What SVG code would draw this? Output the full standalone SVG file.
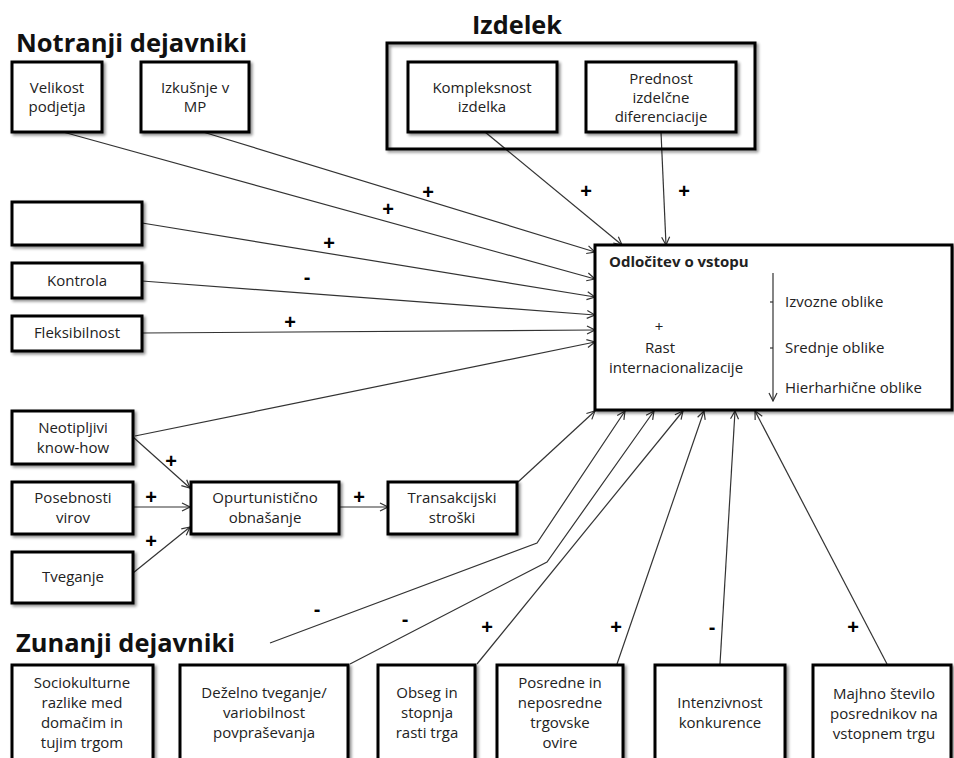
<svg xmlns="http://www.w3.org/2000/svg" width="954" height="758" viewBox="0 0 954 758">
<defs>
<filter id="sh" x="-10%" y="-10%" width="130%" height="140%">
<feGaussianBlur in="SourceAlpha" stdDeviation="1.5"/>
<feOffset dx="2" dy="2" result="b"/>
<feComponentTransfer><feFuncA type="linear" slope="0.45"/></feComponentTransfer>
<feMerge><feMergeNode/><feMergeNode in="SourceGraphic"/></feMerge>
</filter>
<marker id="ar" viewBox="0 0 10 10" refX="9" refY="5" markerWidth="10" markerHeight="10" markerUnits="userSpaceOnUse" orient="auto">
<path d="M1,1 L9,5 L1,9" fill="none" stroke="#333" stroke-width="1.2"/>
</marker>
</defs>
<style>
.box{fill:#fff;stroke:#000;stroke-width:3;filter:url(#sh)}
.t{font-family:"Open Sans","Liberation Sans",sans-serif;font-size:15px;fill:#222;text-anchor:middle}
.ti{font-family:"Open Sans","Liberation Sans",sans-serif;font-size:25px;font-weight:bold;fill:#111}
.s{font-family:"Liberation Sans",Arial,sans-serif;font-size:20px;font-weight:bold;fill:#000;text-anchor:middle}
.c{fill:none;stroke:#333;stroke-width:1.2}
.ca{fill:none;stroke:#333;stroke-width:1.2;marker-end:url(#ar)}
</style>
<rect width="954" height="758" fill="#fff"/>

<text class="ti" x="16" y="52" textLength="231" lengthAdjust="spacingAndGlyphs">Notranji dejavniki</text>
<text class="ti" x="472" y="34" textLength="90" lengthAdjust="spacingAndGlyphs">Izdelek</text>
<text class="ti" x="16" y="652" textLength="219" lengthAdjust="spacingAndGlyphs">Zunanji dejavniki</text>

<g id="connectors">
<line class="ca" x1="63" y1="132" x2="595" y2="279"/>
<line class="ca" x1="203" y1="132" x2="595" y2="252"/>
<line class="ca" x1="142" y1="223" x2="595" y2="297"/>
<line class="ca" x1="142" y1="281" x2="595" y2="315"/>
<line class="ca" x1="142" y1="333" x2="595" y2="330"/>
<line class="ca" x1="135" y1="436" x2="595" y2="342"/>
<line class="ca" x1="485" y1="132" x2="622" y2="245"/>
<line class="ca" x1="661" y1="132" x2="666" y2="245"/>
<line class="ca" x1="133" y1="437" x2="190" y2="488"/>
<line class="ca" x1="133" y1="507" x2="190" y2="507"/>
<line class="ca" x1="133" y1="573" x2="190" y2="527"/>
<line class="ca" x1="339" y1="507" x2="388" y2="507"/>
<line class="ca" x1="518" y1="482" x2="595" y2="411"/>
<polyline class="ca" points="270,643 537,543 625,411"/>
<polyline class="ca" points="350,664 547,562 654,411"/>
<line class="ca" x1="477" y1="664" x2="683" y2="411"/>
<line class="ca" x1="617" y1="664" x2="704" y2="411"/>
<line class="ca" x1="720" y1="664" x2="735" y2="411"/>
<line class="ca" x1="887" y1="664" x2="755" y2="411"/>
</g>

<g id="labels">
<text class="s" x="428" y="199">+</text>
<text class="s" x="388" y="216">+</text>
<text class="s" x="329" y="250">+</text>
<text class="s" x="307" y="284">-</text>
<text class="s" x="290" y="329">+</text>
<text class="s" x="586" y="198">+</text>
<text class="s" x="684" y="198">+</text>
<text class="s" x="171" y="468">+</text>
<text class="s" x="151" y="504">+</text>
<text class="s" x="151" y="548">+</text>
<text class="s" x="359" y="504">+</text>
<text class="s" x="317" y="616">-</text>
<text class="s" x="405" y="626">-</text>
<text class="s" x="487" y="634">+</text>
<text class="s" x="616" y="634">+</text>
<text class="s" x="712" y="634">-</text>
<text class="s" x="853" y="634">+</text>
</g>

<g id="n-velikost"><rect class="box" x="12" y="62" width="90" height="70"/>
<text class="t" x="57" y="93">Velikost</text><text class="t" x="57" y="112">podjetja</text></g>
<g id="n-izkusnje"><rect class="box" x="141" y="62" width="108" height="70"/>
<text class="t" x="195" y="93">Izkušnje v</text><text class="t" x="195" y="112">MP</text></g>

<g id="n-izdelek"><rect x="387" y="43" width="368" height="106" fill="none" stroke="#000" stroke-width="3" filter="url(#sh)"/></g>
<g id="n-kompleksnost"><rect class="box" x="408" y="62" width="149" height="70"/>
<text class="t" x="482" y="93">Kompleksnost</text><text class="t" x="482" y="112">izdelka</text></g>
<g id="n-prednost"><rect class="box" x="586" y="62" width="150" height="70"/>
<text class="t" x="661" y="84">Prednost</text><text class="t" x="661" y="103">izdelčne</text><text class="t" x="661" y="122">diferenciacije</text></g>

<g id="n-empty"><rect class="box" x="12" y="202" width="130" height="43"/></g>
<g id="n-kontrola"><rect class="box" x="12" y="263" width="130" height="35"/>
<text class="t" x="77" y="286">Kontrola</text></g>
<g id="n-fleksibilnost"><rect class="box" x="12" y="316" width="130" height="35"/>
<text class="t" x="77" y="338">Fleksibilnost</text></g>

<g id="n-neotipljivi"><rect class="box" x="12" y="411" width="121" height="53"/>
<text class="t" x="73" y="433">Neotipljivi</text><text class="t" x="73" y="453">know-how</text></g>
<g id="n-posebnosti"><rect class="box" x="12" y="482" width="121" height="52"/>
<text class="t" x="73" y="503">Posebnosti</text><text class="t" x="73" y="523">virov</text></g>
<g id="n-tveganje"><rect class="box" x="12" y="552" width="121" height="51"/>
<text class="t" x="73" y="582">Tveganje</text></g>
<g id="n-opurtunisticno"><rect class="box" x="191" y="482" width="148" height="52"/>
<text class="t" x="265" y="503">Opurtunistično</text><text class="t" x="265" y="523">obnašanje</text></g>
<g id="n-transakcijski"><rect class="box" x="388" y="482" width="129" height="52"/>
<text class="t" x="452" y="503">Transakcijski</text><text class="t" x="452" y="523">stroški</text></g>

<g id="n-odlocitev"><rect class="box" x="595" y="245" width="357" height="165" stroke-width="3.5"/>
<text class="t" x="609" y="267" style="text-anchor:start;font-weight:bold">Odločitev o vstopu</text>
<text class="t" x="659" y="332">+</text>
<text class="t" x="660" y="353">Rast</text>
<text class="t" x="609" y="373" style="text-anchor:start">internacionalizacije</text>
<line x1="773" y1="273" x2="773" y2="401" stroke="#333" stroke-width="1.2" marker-end="url(#ar)"/>
<line x1="770" y1="302" x2="773" y2="302" stroke="#333" stroke-width="1.2"/>
<line x1="770" y1="348" x2="773" y2="348" stroke="#333" stroke-width="1.2"/>
<text class="t" x="785" y="307" style="text-anchor:start">Izvozne oblike</text>
<text class="t" x="785" y="353" style="text-anchor:start">Srednje oblike</text>
<text class="t" x="785" y="393" style="text-anchor:start">Hierharhične oblike</text></g>

<g id="n-sociokulturne"><rect class="box" x="12" y="665" width="141" height="115"/>
<text class="t" x="82" y="688">Sociokulturne</text><text class="t" x="82" y="708">razlike med</text><text class="t" x="82" y="728">domačim in</text><text class="t" x="82" y="748">tujim trgom</text></g>
<g id="n-dezelno"><rect class="box" x="180" y="665" width="168" height="115"/>
<text class="t" x="264" y="698">Deželno tveganje/</text><text class="t" x="264" y="718">variobilnost</text><text class="t" x="264" y="738">povpraševanja</text></g>
<g id="n-obseg"><rect class="box" x="378" y="665" width="97" height="115"/>
<text class="t" x="427" y="698">Obseg in</text><text class="t" x="427" y="718">stopnja</text><text class="t" x="427" y="738">rasti trga</text></g>
<g id="n-posredne"><rect class="box" x="497" y="665" width="126" height="115"/>
<text class="t" x="560" y="688">Posredne in</text><text class="t" x="560" y="708">neposredne</text><text class="t" x="560" y="728">trgovske</text><text class="t" x="560" y="748">ovire</text></g>
<g id="n-intenzivnost"><rect class="box" x="655" y="665" width="130" height="115"/>
<text class="t" x="720" y="708">Intenzivnost</text><text class="t" x="720" y="728">konkurence</text></g>
<g id="n-majhno"><rect class="box" x="813" y="665" width="138" height="115"/>
<text class="t" x="884" y="699">Majhno število</text><text class="t" x="884" y="719">posrednikov na</text><text class="t" x="884" y="739">vstopnem trgu</text></g>
</svg>
